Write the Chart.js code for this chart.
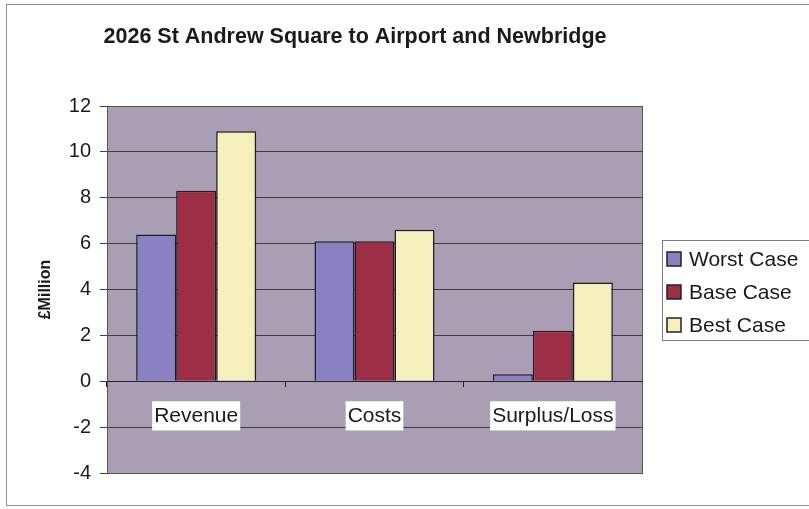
<!DOCTYPE html>
<html>
<head>
<meta charset="utf-8">
<title>2026 St Andrew Square to Airport and Newbridge</title>
<script src="https://cdn.jsdelivr.net/npm/chart.js@4/dist/chart.umd.min.js"></script>
<style>
    html, body { margin: 0; padding: 0; background: #ffffff; }
    #wrap { position: relative; width: 809px; height: 509px; }
</style>
</head>
<body>
<div id="wrap"><canvas id="scenarioChart" width="809" height="509"></canvas></div>
<script>
// 圖表數據
const chartTitle = '2026 St Andrew Square to Airport and Newbridge';
const categories = ['Revenue', 'Costs', 'Surplus/Loss'];
const seriesNames = ['Worst Case', 'Base Case', 'Best Case'];
const worstCase = [6.4, 6.1, 0.3];
const baseCase = [8.3, 6.1, 2.2];
const bestCase = [10.9, 6.6, 4.3];
const yTicks = [-4, -2, 0, 2, 4, 6, 8, 10, 12];

// 顏色配置
const colors = {
    worst: '#8a80c2',
    base: '#9c2f46',
    best: '#f5efbc',
    plotBg: '#aa9eb5',
    grid: '#3e3a44',
    axis: '#222222',
    text: '#1a1a1a'
};

const FONT = 'Arial, "Liberation Sans", sans-serif';

// 背景、繪圖區邊框、外框、標題、圖例
const decorPlugin = {
    id: 'decor',
    beforeDraw(chart) {
        const { ctx, chartArea: a } = chart;
        ctx.save();
        ctx.fillStyle = '#ffffff';
        ctx.fillRect(0, 0, chart.width, chart.height);
        ctx.fillStyle = colors.plotBg;
        ctx.fillRect(a.left, a.top, a.right - a.left, a.bottom - a.top);
        ctx.restore();
    },
    afterDraw(chart) {
        const { ctx, chartArea: a } = chart;
        ctx.save();
        // plot border
        ctx.strokeStyle = '#555555';
        ctx.lineWidth = 1;
        ctx.strokeRect(a.left + 0.5, a.top + 0.5, a.right - a.left, a.bottom - a.top);
        // outer frame
        ctx.strokeStyle = '#8c8c8c';
        ctx.strokeRect(6.5, 4.5, 812, 501);
        // title
        ctx.fillStyle = colors.text;
        ctx.font = 'bold 21.5px ' + FONT;
        ctx.textAlign = 'center';
        ctx.textBaseline = 'middle';
        ctx.fillText(chartTitle, 355, 37);
        // legend
        const lx = 662, ly = 240, lh = 100;
        ctx.fillStyle = '#ffffff';
        ctx.fillRect(lx, ly, 160, lh);
        ctx.strokeStyle = '#7a7a7a';
        ctx.strokeRect(lx + 0.5, ly + 0.5, 160, lh);
        ctx.font = '21px ' + FONT;
        ctx.textAlign = 'left';
        chart.data.datasets.forEach((ds, i) => {
            const cy = 259 + i * 33;
            ctx.fillStyle = ds.backgroundColor;
            ctx.fillRect(667, cy - 7, 14, 14);
            ctx.strokeStyle = '#222222';
            ctx.lineWidth = 1.5;
            ctx.strokeRect(667, cy - 7, 14, 14);
            ctx.fillStyle = colors.text;
            ctx.fillText(ds.label, 689, cy + 1);
        });
        ctx.restore();
    }
};

/**
 * 初始化長條圖
 * @function initializeScenarioChart
 */
function initializeScenarioChart() {
    const ctx = document.getElementById('scenarioChart');
    if (!ctx) return;

    const seriesData = [worstCase, baseCase, bestCase];
    const seriesColors = [colors.worst, colors.base, colors.best];

    new Chart(ctx.getContext('2d'), {
        type: 'bar',
        data: {
            labels: categories,
            datasets: seriesNames.map((name, i) => ({
                label: name,
                data: seriesData[i],
                backgroundColor: seriesColors[i],
                borderColor: '#1c1c22',
                borderWidth: 1.5,
                categoryPercentage: 0.673,
                barPercentage: 1.0
            }))
        },
        options: {
            responsive: false,
            animation: false,
            layout: { padding: { left: 0, right: 167, top: 106, bottom: 36 } },
            plugins: {
                legend: { display: false },
                title: { display: false },
                tooltip: { enabled: false }
            },
            scales: {
                x: {
                    position: { y: 0 },
                    grid: {
                        display: true,
                        drawOnChartArea: false,
                        drawTicks: true,
                        tickLength: 5,
                        color: colors.axis
                    },
                    border: { display: true, color: colors.axis, width: 1 },
                    ticks: {
                        color: colors.text,
                        font: { family: FONT, size: 21 },
                        padding: 17,
                        showLabelBackdrop: true,
                        backdropColor: '#ffffff',
                        backdropPadding: { x: 2, y: 2 },
                        maxRotation: 0
                    }
                },
                y: {
                    min: yTicks[0],
                    max: yTicks[yTicks.length - 1],
                    afterFit: s => { s.width = 107; },
                    afterBuildTicks: s => { s.ticks = yTicks.map(v => ({ value: v })); },
                    grid: {
                        color: colors.grid,
                        lineWidth: 1,
                        tickLength: 7,
                        drawTicks: true
                    },
                    border: { display: true, color: colors.axis, width: 1 },
                    ticks: {
                        color: colors.text,
                        font: { family: FONT, size: 20 },
                        padding: 9
                    },
                    title: {
                        display: true,
                        text: '£Million',
                        color: colors.text,
                        font: { family: FONT, size: 16, weight: 'bold' },
                        padding: { top: 36, bottom: 0 }
                    }
                }
            }
        },
        plugins: [decorPlugin]
    });
}

document.addEventListener('DOMContentLoaded', function() {
    initializeScenarioChart();
});
</script>
</body>
</html>
